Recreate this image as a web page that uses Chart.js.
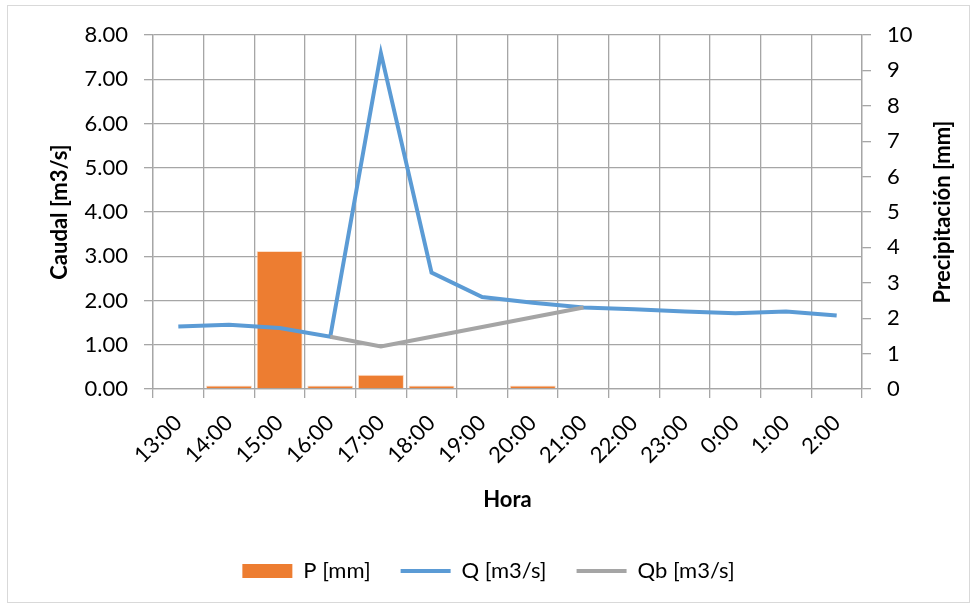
<!DOCTYPE html>
<html>
<head>
<meta charset="utf-8">
<script src="https://cdn.jsdelivr.net/npm/chart.js@4.4.1/dist/chart.umd.min.js"></script>
<style>
  html, body { margin: 0; padding: 0; background: #fff; }
</style>
</head>
<body>
<canvas id="grafico" width="977" height="609"></canvas>
<script>
// datos
const horas = ["13:00", "14:00", "15:00", "16:00", "17:00", "18:00", "19:00",
  "20:00", "21:00", "22:00", "23:00", "0:00", "1:00", "2:00"];
const precipitacion = [0, 0.1, 3.9, 0.1, 0.4, 0.1, 0, 0.1, 0, 0, 0, 0, 0, 0];
const caudal = [1.41, 1.45, 1.38, 1.18, 7.59, 2.63, 2.08, 1.95, 1.84, 1.80, 1.75, 1.71, 1.75, 1.66];
const caudalBase = [null, null, null, 1.18, 0.96, 1.18, 1.40, 1.62, 1.84, null, null, null, null, null];
const ticksCaudal = [0, 1, 2, 3, 4, 5, 6, 7, 8];
const ticksPrecip = [0, 1, 2, 3, 4, 5, 6, 7, 8, 9, 10];

const gris = "#a6a6a6";
const fuente = "Lato";

Chart.defaults.font.family = fuente;
Chart.defaults.font.size = 22;
Chart.defaults.color = "#000";

// marco exterior del grafico
const marco = {
  id: "marco",
  beforeDraw(chart) {
    const ctx = chart.ctx;
    ctx.save();
    ctx.fillStyle = "#fff";
    ctx.fillRect(0, 0, chart.width, chart.height);
    ctx.strokeStyle = "#d9d9d9";
    ctx.lineWidth = 1;
    ctx.strokeRect(7.5, 5.5, 962, 597);
    ctx.restore();
  }
};

// titulo del eje derecho, leido de abajo hacia arriba
const tituloDerecho = {
  id: "tituloDerecho",
  afterDraw(chart) {
    const s = chart.scales.y1;
    const ctx = chart.ctx;
    ctx.save();
    ctx.translate(s.right - 27, (s.top + s.bottom) / 2);
    ctx.rotate(-Math.PI / 2);
    ctx.textAlign = "center";
    ctx.textBaseline = "middle";
    ctx.font = "bold 22px " + fuente;
    ctx.fillStyle = "#000";
    ctx.fillText("Precipitación [mm]", 0, 0);
    ctx.restore();
  }
};

new Chart(document.getElementById("grafico"), {
  type: "bar",
  data: {
    labels: horas,
    datasets: [
      {
        label: "P [mm]",
        data: precipitacion,
        yAxisID: "y1",
        backgroundColor: "#ed7d31",
        borderColor: "#fbe0cc",
        borderWidth: 1,
        barPercentage: 0.91,
        categoryPercentage: 1,
        order: 3
      },
      {
        label: "Q [m3/s]",
        type: "line",
        data: caudal,
        yAxisID: "y",
        borderColor: "#5b9bd5",
        backgroundColor: "#5b9bd5",
        borderWidth: 4,
        pointRadius: 0,
        tension: 0,
        order: 2
      },
      {
        label: "Qb [m3/s]",
        type: "line",
        data: caudalBase,
        yAxisID: "y",
        borderColor: "#a5a5a5",
        backgroundColor: "#a5a5a5",
        borderWidth: 4,
        pointRadius: 0,
        tension: 0,
        order: 1
      }
    ]
  },
  options: {
    responsive: false,
    animation: false,
    layout: { padding: { left: 7, right: 7, top: 35, bottom: 17 } },
    plugins: {
      tooltip: { enabled: false },
      legend: {
        position: "bottom",
        labels: {
          usePointStyle: true,
          pointStyleWidth: 50,
          boxHeight: 14,
          padding: 30,
          font: { size: 22 },
          sort: (a, b) => a.datasetIndex - b.datasetIndex,
          generateLabels(chart) {
            const items = Chart.defaults.plugins.legend.labels.generateLabels(chart);
            items.forEach(it => {
              const ds = chart.data.datasets[it.datasetIndex];
              if (ds.type === "line") {
                it.pointStyle = "line";
                it.lineWidth = 4;
                it.strokeStyle = ds.borderColor;
              } else {
                it.pointStyle = "rect";
                it.lineWidth = 0;
                it.fillStyle = ds.backgroundColor;
                it.strokeStyle = ds.backgroundColor;
              }
            });
            return items;
          }
        }
      }
    },
    scales: {
      x: {
        offset: true,
        grid: { offset: true, color: gris, lineWidth: 1.3, tickLength: 9 },
        border: { color: gris, width: 1.3 },
        ticks: { minRotation: 45, maxRotation: 45, autoSkip: false, padding: 12, color: "#000" },
        title: { display: true, text: "Hora", font: { size: 22, weight: "bold" }, padding: { top: 0, bottom: 17 } },
        afterFit(s) { s.height = 141; }
      },
      y: {
        position: "left",
        min: 0,
        max: 8,
        afterBuildTicks(s) { s.ticks = ticksCaudal.map(v => ({ value: v })); },
        grid: { color: gris, lineWidth: 1.3, tickLength: 9 },
        border: { color: gris, width: 1.3 },
        ticks: { padding: 16, callback: v => v.toFixed(2) },
        title: { display: true, text: "Caudal [m3/s]", font: { size: 22, weight: "bold" }, padding: { top: 40, bottom: 0 } },
        afterFit(s) { s.width = 146; }
      },
      y1: {
        position: "right",
        min: 0,
        max: 10,
        afterBuildTicks(s) { s.ticks = ticksPrecip.map(v => ({ value: v })); },
        grid: { drawOnChartArea: false, color: gris, lineWidth: 1.3, tickLength: 9 },
        border: { color: gris, width: 1.3 },
        ticks: { padding: 16, callback: v => String(v) },
        afterFit(s) { s.width = 108; }
      }
    }
  },
  plugins: [marco, tituloDerecho]
});
</script>
</body>
</html>
